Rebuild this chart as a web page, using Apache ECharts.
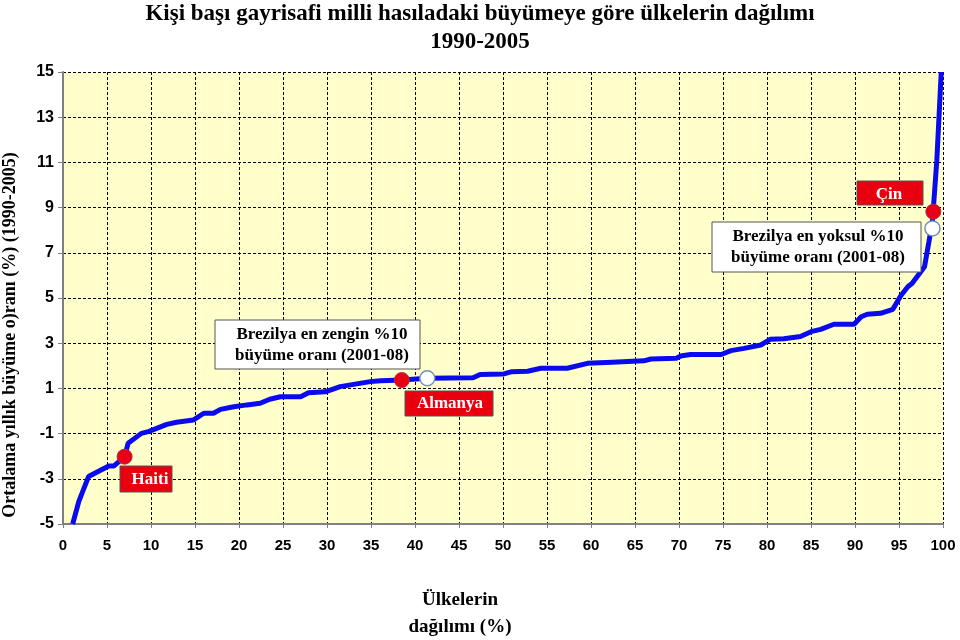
<!DOCTYPE html>
<html>
<head>
<meta charset="utf-8">
<script src="https://cdn.jsdelivr.net/npm/echarts@6/dist/echarts.min.js"></script>
<style>
html,body{margin:0;padding:0;background:#fff;}
#c{width:960px;height:640px;}
</style>
</head>
<body>
<div id="c"></div>
<script>
// Distribution of countries (%) along x, average annual growth (%) along y
var countryPct = [1.1, 1.8, 2.9, 5.2, 5.8, 7.0, 7.4, 8.9, 9.7, 11.8, 12.9, 14.8, 16.0, 17.1, 17.9, 19.4, 20.9, 22.4, 23.5, 24.7, 27.0, 27.9, 29.8, 31.5, 34.9, 36.1, 38.5, 41.4, 46.6, 47.4, 50.1, 51.0, 52.8, 54.3, 57.3, 59.6, 62.4, 66.0, 66.8, 69.7, 70.2, 71.3, 74.8, 75.9, 77.4, 79.3, 80.4, 81.9, 83.8, 85.0, 86.1, 87.6, 89.9, 90.7, 91.4, 92.9, 94.3, 95.2, 96.0, 96.5, 97.9, 98.4, 98.8, 99.3, 99.8];
var growth = [-5.0, -4.0, -2.9, -2.43, -2.43, -2.02, -1.43, -0.99, -0.91, -0.59, -0.5, -0.4, -0.1, -0.1, 0.07, 0.19, 0.27, 0.34, 0.52, 0.63, 0.63, 0.81, 0.85, 1.08, 1.3, 1.34, 1.37, 1.45, 1.47, 1.62, 1.64, 1.74, 1.76, 1.89, 1.89, 2.11, 2.16, 2.22, 2.3, 2.33, 2.43, 2.5, 2.5, 2.67, 2.77, 2.92, 3.18, 3.2, 3.3, 3.51, 3.61, 3.84, 3.84, 4.17, 4.28, 4.32, 4.5, 5.1, 5.5, 5.65, 6.38, 7.49, 8.4, 11.1, 15.0];

// Highlighted countries (red dots): Haiti, Almanya, Çin
var redX = [7.0, 38.5, 98.9];
var redY = [-2.02, 1.37, 8.82];
// Brazil top/bottom 10% growth (white dots)
var whiteX = [41.4, 98.8];
var whiteY = [1.45, 8.08];

var xTicks = {min: 0, max: 100, interval: 5};
var yTicks = {min: -5, max: 15, interval: 2};

var titleLines = ['Kişi başı gayrisafi milli hasıladaki büyümeye göre ülkelerin dağılımı', '1990-2005'];
var yName = 'Ortalama yıllık büyüme o)ranı (%) (1990-2005)';
var xNameLines = ['Ülkelerin', 'dağılımı (%)'];

function zip(a, b) { return a.map(function (v, i) { return [v, b[i]]; }); }

var serif = "'Liberation Serif','Times New Roman',serif";
var chart = echarts.init(document.getElementById('c'));

function box(x, y, w, h, fill, stroke) {
  return {type: 'rect', shape: {x: x, y: y, width: w, height: h},
    style: {fill: fill, stroke: stroke, lineWidth: 1}, z: 100};
}
function txt(x, y, t, color, size, lh) {
  return {type: 'text', x: x, y: y, z: 101,
    style: {text: t, fill: color, font: 'bold ' + size + 'px ' + serif,
      textAlign: 'center', textVerticalAlign: 'middle', lineHeight: lh || size}};
}

chart.setOption({
  animation: false,
  backgroundColor: '#ffffff',
  title: {
    text: titleLines.join('\n'),
    left: 'center', top: -5,
    textStyle: {fontFamily: serif, fontWeight: 'bold', fontSize: 23, color: '#000', lineHeight: 28}
  },
  grid: {left: 63, right: 17, top: 72, bottom: 116, show: true, backgroundColor: '#ffffcc', borderWidth: 0},
  xAxis: {
    type: 'value', min: xTicks.min, max: xTicks.max, interval: xTicks.interval,
    axisLine: {show: true, onZero: false, lineStyle: {color: '#808080', width: 2}},
    axisTick: {show: true, length: 4, lineStyle: {color: '#808080'}},
    axisLabel: {margin: 14, color: '#000', fontWeight: 'bold', fontSize: 15,
      fontFamily: "'Liberation Sans Narrow','Arial Narrow','Liberation Sans',Arial,sans-serif"},
    splitLine: {show: true, lineStyle: {color: '#000', type: [3, 2], width: 1}}
  },
  yAxis: {
    type: 'value', min: yTicks.min, max: yTicks.max, interval: yTicks.interval,
    axisLine: {show: true, onZero: false, lineStyle: {color: '#808080', width: 2}},
    axisTick: {show: true, length: 5, lineStyle: {color: '#808080'}},
    axisLabel: {margin: 9, color: '#000', fontWeight: 'bold', fontSize: 16,
      fontFamily: "'Liberation Sans',Arial,sans-serif"},
    splitLine: {show: true, lineStyle: {color: '#000', type: [3, 2], width: 1}}
  },
  series: [
    {type: 'line', data: zip(countryPct, growth), showSymbol: false, symbol: 'none',
      lineStyle: {color: '#0a0aee', width: 5}, z: 3},
    {type: 'scatter', data: zip(redX, redY), symbolSize: 15,
      itemStyle: {color: '#e8001a', borderColor: '#b03040', borderWidth: 1, opacity: 1}, z: 5},
    {type: 'scatter', data: zip(whiteX, whiteY), symbolSize: 15,
      itemStyle: {color: '#ffffff', borderColor: '#7090c0', borderWidth: 1.5, opacity: 1}, z: 5}
  ],
  graphic: [
    {type: 'text', x: 10, y: 335, rotation: Math.PI / 2, z: 50,
      style: {text: yName, fill: '#000', font: 'bold 18px ' + serif, textAlign: 'center', textVerticalAlign: 'middle'}},
    txt(460, 614, xNameLines.join('\n'), '#000', 19, 27),
    box(120, 466, 52, 26, '#e8000f', '#555'),
    txt(150, 480, 'Haiti', '#fff', 17),
    box(405, 391, 88, 25, '#e8000f', '#555'),
    txt(450, 404, 'Almanya', '#fff', 17),
    box(857, 181, 66, 24, '#e8000f', '#555'),
    txt(889, 195, 'Çin', '#fff', 17),
    box(215, 320, 205, 49, '#ffffff', '#555'),
    txt(322, 345, 'Brezilya en zengin %10\nbüyüme oranı (2001-08)', '#000', 17, 21),
    box(712, 222, 209, 50, '#ffffff', '#555'),
    txt(818, 247, 'Brezilya en yoksul %10\nbüyüme oranı (2001-08)', '#000', 17, 21)
  ]
});
</script>
</body>
</html>
